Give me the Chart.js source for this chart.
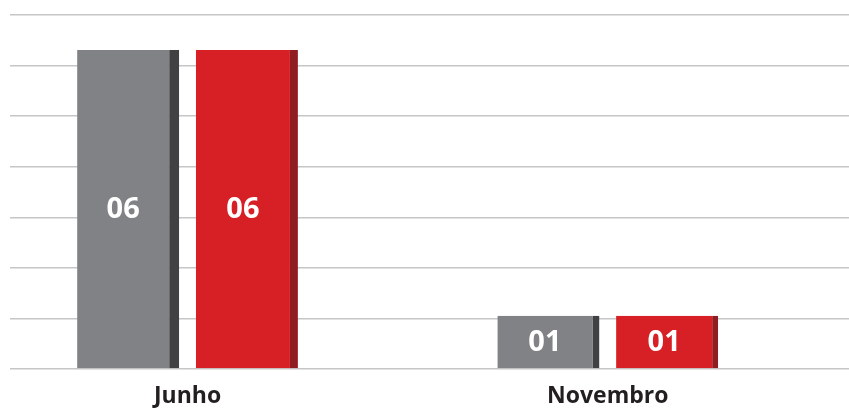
<!DOCTYPE html>
<html>
<head>
<meta charset="utf-8">
<script src="https://cdn.jsdelivr.net/npm/chart.js@4"></script>
<style>
  html, body { margin: 0; padding: 0; background: #fff; }
  #wrap { width: 849px; height: 409px; }
</style>
</head>
<body>
<div id="wrap"><canvas id="chart" width="849" height="409"></canvas></div>
<script>
const categories = ["Junho", "Novembro"];
const graySeries = [6, 1];
const redSeries = [6, 1];
const grayStrip = [10, 7];
const redStrip = [8, 6];

const toPoints = (vals) => vals.map((v, i) => ({ x: i, y: v }));

// value labels, centred on the light part of each bar
const valueLabels = {
  id: "valueLabels",
  afterDatasetsDraw(chart) {
    const ctx = chart.ctx;
    ctx.save();
    ctx.fillStyle = "#ffffff";
    ctx.font = "bold 29px 'Open Sans'";
    ctx.textAlign = "center";
    ctx.textBaseline = "middle";
    chart.data.datasets.forEach((ds, di) => {
      const meta = chart.getDatasetMeta(di);
      const strips = di === 0 ? grayStrip : redStrip;
      meta.data.forEach((bar, i) => {
        const p = bar.getProps(["x", "y", "base"], true);
        const v = ds.data[i].y;
        ctx.fillText(String(v).padStart(2, "0"), p.x - strips[i] / 2, (p.y + p.base) / 2 + 1);
      });
    });
    ctx.restore();
  }
};

new Chart(document.getElementById("chart"), {
  type: "bar",
  data: {
    datasets: [
      {
        data: toPoints(graySeries),
        backgroundColor: "#808285",
        borderColor: "#414042",
        borderWidth: (c) => ({ right: grayStrip[c.dataIndex] }),
        borderSkipped: false,
      },
      {
        data: toPoints(redSeries),
        backgroundColor: "#d71f26",
        borderColor: "#8f1d22",
        borderWidth: (c) => ({ right: redStrip[c.dataIndex] }),
        borderSkipped: false,
      },
    ],
  },
  options: {
    responsive: false,
    animation: false,
    categoryPercentage: 0.565,
    barPercentage: 0.86,
    layout: { padding: { left: 10, right: 0, top: 15, bottom: 0 } },
    plugins: { legend: { display: false }, tooltip: { enabled: false } },
    scales: {
      x: {
        type: "linear",
        offset: false,
        min: -0.4224,
        max: 1.574,
        grid: { display: false, drawTicks: false },
        border: { display: false },
        afterBuildTicks: (scale) => {
          scale.ticks = categories.map((_, i) => ({ value: i }));
        },
        afterFit: (scale) => { scale.height = 40; },
        ticks: {
          padding: 14,
          color: "#231f20",
          font: { family: "'Open Sans'", size: 23, weight: "bold" },
          callback: (v) => categories[v] ?? "",
        },
      },
      y: {
        min: 0,
        max: 6.66,
        ticks: { display: false, count: 8 },
        border: { display: false },
        grid: { color: "#c6c6c6", lineWidth: 1.5, drawTicks: false },
      },
    },
  },
  plugins: [valueLabels],
});
</script>
</body>
</html>
